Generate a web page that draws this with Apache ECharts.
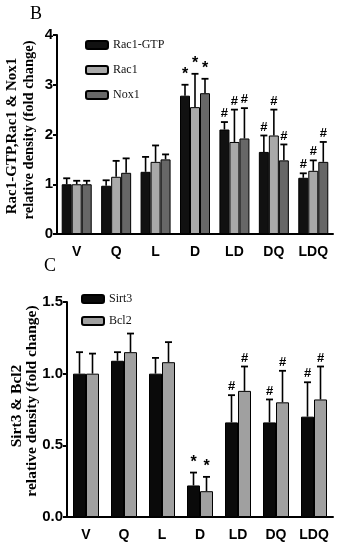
<!DOCTYPE html>
<html><head><meta charset="utf-8">
<script src="https://cdn.jsdelivr.net/npm/echarts@6/dist/echarts.min.js"></script>
<style>html,body{margin:0;padding:0;background:#fff}#c{width:338px;height:550px}</style>
</head><body><div id="c"></div>
<script>
const categories = ['V','Q','L','D','LD','DQ','LDQ'];
// Panel B
const rac1gtp = [1.0, 0.97, 1.25, 2.78, 2.1, 1.65, 1.13];
const rac1gtpErr = [1.12, 1.08, 1.55, 3.0, 2.25, 1.98, 1.22];
const rac1 = [1.0, 1.15, 1.45, 2.55, 1.85, 1.98, 1.27];
const rac1Err = [1.07, 1.47, 1.78, 3.22, 2.5, 2.5, 1.48];
const nox1 = [1.0, 1.23, 1.5, 2.83, 1.92, 1.48, 1.45];
const nox1Err = [1.07, 1.52, 1.6, 3.12, 2.53, 1.8, 1.85];
const marksB = ['', '', '', '*', '#', '#', '#'];
// Panel C
const sirt3 = [1.0, 1.09, 1.0, 0.22, 0.66, 0.66, 0.70];
const sirt3Err = [1.15, 1.15, 1.11, 0.31, 0.85, 0.82, 0.94];
const bcl2 = [1.0, 1.15, 1.08, 0.18, 0.88, 0.80, 0.82];
const bcl2Err = [1.14, 1.28, 1.22, 0.28, 1.05, 1.02, 1.05];
const marksC = ['', '', '', '*', '#', '#', '#'];
const ticksB = [0, 1, 2, 3, 4];
const ticksC = ['0.0', '0.5', '1.0', '1.5'];

const chart = echarts.init(document.getElementById('c'));

function errSeries(name, vals, tops, marks, offset, axisIdx) {
  return {
    type: 'custom', name: name + '_err', xAxisIndex: axisIdx, yAxisIndex: axisIdx, z: 1,
    data: vals.map((v, i) => [i, v, tops[i]]),
    renderItem: function (params, api) {
      const i = api.value(0);
      const base = api.coord([i, api.value(1)]);
      const top = api.coord([i, api.value(2)]);
      const x = base[0] + offset;
      const children = [
        {type: 'line', shape: {x1: x, y1: base[1], x2: x, y2: top[1]}, style: {stroke: '#000', lineWidth: 1.6}},
        {type: 'line', shape: {x1: x - 3.5, y1: top[1], x2: x + 3.5, y2: top[1]}, style: {stroke: '#000', lineWidth: 1.8}}
      ];
      const m = marks[i];
      if (m) {
        children.push({type: 'text', x: x, y: top[1] - 2, style: {text: m, fill: '#000', font: 'bold ' + (m === '*' ? 16 : 13) + 'px "Liberation Sans", Arial', textAlign: 'center', textVerticalAlign: 'bottom'}});
      }
      return {type: 'group', children: children};
    }
  };
}

const serifFont = '"Liberation Serif","Times New Roman",serif';
const barBorder = {borderColor: '#000', borderWidth: 1};
function vtext(x, y, text, size) {
  return {type: 'text', x: x, y: y, rotation: Math.PI / 2,
    style: {text: text, font: 'bold ' + size + 'px ' + serifFont, fill: '#000', textAlign: 'center', textVerticalAlign: 'middle'}};
}

chart.setOption({
  animation: false,
  textStyle: {fontFamily: '"Liberation Sans", Arial'},
  graphic: [
    {type: 'text', left: 30, top: 5, style: {text: 'B', font: '18px ' + serifFont, fill: '#000'}},
    {type: 'text', left: 44, top: 257, style: {text: 'C', font: '18px ' + serifFont, fill: '#000'}},
    vtext(12, 136, 'Rac1-GTP,Rac1 & Nox1', 15),
    vtext(29, 130, 'relative density (fold change)', 14.5),
    vtext(17, 406, 'Sirt3 & Bcl2', 15.5),
    vtext(32, 401, 'relative density (fold change)', 15.5)
  ],
  legend: [
    {orient: 'vertical', left: 80, top: 34, itemWidth: 22, itemHeight: 8, itemGap: 13,
     data: ['Rac1-GTP', 'Rac1', 'Nox1'], textStyle: {fontFamily: serifFont, fontSize: 12, color: '#111'}},
    {orient: 'vertical', left: 76, top: 288, itemWidth: 22, itemHeight: 8, itemGap: 10,
     data: ['Sirt3', 'Bcl2'], textStyle: {fontFamily: serifFont, fontSize: 12, color: '#111'}}
  ],
  grid: [
    {left: 57, top: 35, right: 5, height: 199},
    {left: 67, top: 302, right: 5, height: 215}
  ],
  xAxis: [0, 1].map(g => ({
    type: 'category', gridIndex: g, data: categories,
    axisLine: {lineStyle: {color: '#000', width: 2}},
    axisTick: {show: false},
    axisLabel: {color: '#000', fontWeight: 'bold', fontSize: 14, margin: 11, interval: 0}
  })),
  yAxis: [
    {type: 'value', gridIndex: 0, min: 0, max: 4, interval: 1,
     axisLine: {show: true, lineStyle: {color: '#000', width: 2}},
     axisTick: {show: true, length: 4, lineStyle: {color: '#000', width: 2}},
     splitLine: {show: false},
     axisLabel: {color: '#000', fontWeight: 'bold', fontSize: 15, margin: 4, formatter: v => String(ticksB[Math.round(v)])}},
    {type: 'value', gridIndex: 1, min: 0, max: 1.5, interval: 0.5,
     axisLine: {show: true, lineStyle: {color: '#000', width: 2}},
     axisTick: {show: true, length: 4, lineStyle: {color: '#000', width: 2}},
     splitLine: {show: false},
     axisLabel: {color: '#000', fontWeight: 'bold', fontSize: 15, margin: 4, formatter: v => ticksC[Math.round(v * 2)]}}
  ],
  series: [
    {type: 'bar', name: 'Rac1-GTP', xAxisIndex: 0, yAxisIndex: 0, data: rac1gtp, barWidth: 10, barGap: '0%', itemStyle: Object.assign({color: '#111'}, barBorder), z: 2},
    {type: 'bar', name: 'Rac1', xAxisIndex: 0, yAxisIndex: 0, data: rac1, barWidth: 10, barGap: '0%', itemStyle: Object.assign({color: '#a9a9a9'}, barBorder), z: 2},
    {type: 'bar', name: 'Nox1', xAxisIndex: 0, yAxisIndex: 0, data: nox1, barWidth: 10, barGap: '0%', itemStyle: Object.assign({color: '#676767'}, barBorder), z: 2},
    errSeries('Rac1-GTP', rac1gtp, rac1gtpErr, marksB, -10, 0),
    errSeries('Rac1', rac1, rac1Err, marksB, 0, 0),
    errSeries('Nox1', nox1, nox1Err, marksB, 10, 0),
    {type: 'bar', name: 'Sirt3', xAxisIndex: 1, yAxisIndex: 1, data: sirt3, barWidth: 13, barGap: '0%', itemStyle: Object.assign({color: '#0a0a0a'}, barBorder), z: 2},
    {type: 'bar', name: 'Bcl2', xAxisIndex: 1, yAxisIndex: 1, data: bcl2, barWidth: 13, barGap: '0%', itemStyle: Object.assign({color: '#a0a0a0'}, barBorder), z: 2},
    errSeries('Sirt3', sirt3, sirt3Err, marksC, -6.5, 1),
    errSeries('Bcl2', bcl2, bcl2Err, marksC, 6.5, 1)
  ]
});
</script></body></html>
